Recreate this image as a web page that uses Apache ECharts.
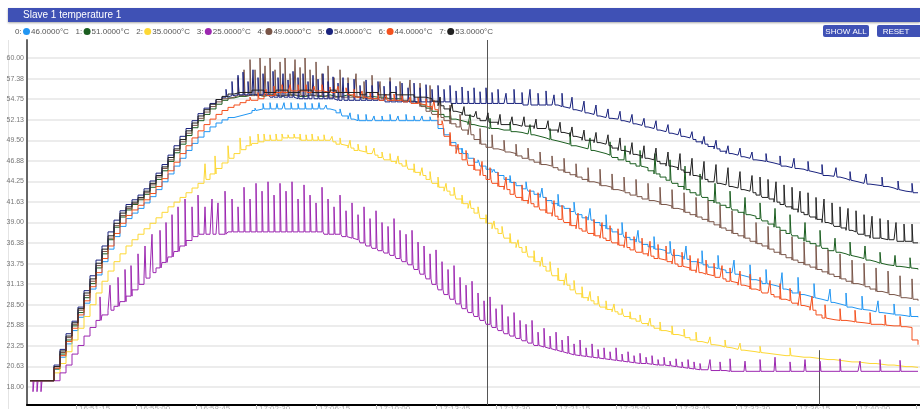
<!DOCTYPE html>
<html><head><meta charset="utf-8">
<script src="https://cdn.jsdelivr.net/npm/echarts@6/dist/echarts.min.js"></script>
<style>html,body{margin:0;padding:0;background:#fff;}#c{width:920px;height:409px;}</style>
</head><body><div id="c"></div>
<script>
// ---------- DATA ----------
const chartTitle = 'Slave 1 temperature 1';
const seriesNames = ['46.0000°C','51.0000°C','35.0000°C','25.0000°C','49.0000°C','54.0000°C','44.0000°C','53.0000°C'];
const sampleStart = 30, sampleStep = 6; // sample time axis (x units)
const xTickValues = [76,136,196,256,316,376,436,496,556,616,676,736,796,856,916];
const xTickLabels = ['16:51:15','16:55:00','16:58:45','17:02:30','17:06:15','17:10:00','17:13:45','17:17:30','17:21:15','17:25:00','17:28:45','17:32:30','17:36:15','17:40:00','17:43:45'];
const yTickValues = [18.00,20.625,23.25,25.875,28.50,31.125,33.75,36.375,39.00,41.625,44.25,46.875,49.50,52.125,54.75,57.375,60.00];
const markerTimes = [487];
const markerSegment = [819, 22.7];

const base0 = [
18.8,18.8,18.8,18.8,20.3,21.8,23.5,25.2,26.9,28.7,
30.5,32.3,34.0,35.6,37.2,38.5,39.5,40.2,40.8,41.5,
42.3,43.2,44.2,45.2,46.2,47.2,48.2,49.1,49.9,50.6,
51.2,51.7,52.1,52.4,52.6,52.8,53.0,53.3,53.5,53.5,
53.5,53.5,53.5,53.5,53.5,53.5,53.5,53.5,53.5,53.5,
53.3,53.0,52.6,52.2,52.0,52.0,52.0,52.0,52.0,52.0,
52.0,52.0,52.0,52.0,52.0,52.0,52.0,52.0,51.0,50.2,
49.2,48.4,47.8,47.2,46.7,46.2,45.8,45.4,45.0,44.5,
44.1,43.7,43.3,43.0,42.6,42.2,41.8,41.4,41.1,40.8,
40.4,40.0,39.6,39.3,39.0,38.6,38.2,37.8,37.5,37.1,
36.8,36.5,36.2,35.9,35.6,35.4,35.1,34.8,34.6,34.3,
34.0,33.8,33.6,33.3,33.1,32.9,32.6,32.4,32.2,32.0,
31.7,31.5,31.2,31.0,30.8,30.5,30.3,30.0,29.8,29.6,
29.4,29.2,29.0,28.8,28.6,28.4,28.2,28.0,27.9,27.8,
27.6,27.5,27.4,27.3,27.2,27.1,27.0,27.0,26.9];
const base1 = [
18.8,18.8,18.8,18.8,20.3,22.2,24.0,25.8,27.5,29.4,
31.2,33.2,35.0,36.8,38.4,39.7,40.6,41.3,41.9,42.6,
43.5,44.5,45.6,46.8,47.9,49.0,50.1,51.1,52.0,52.8,
53.5,54.1,54.6,54.9,55.1,55.1,55.3,55.3,55.1,55.3,
55.3,55.1,55.3,55.3,55.1,55.1,55.3,55.1,55.1,55.3,
55.1,55.1,55.3,55.1,55.0,55.0,55.1,55.0,55.0,54.8,
54.8,54.8,54.5,54.5,54.3,54.0,53.6,53.2,52.8,52.5,
52.2,52.0,51.8,51.5,51.3,51.2,51.0,51.0,50.8,50.8,
50.6,50.5,50.3,50.2,50.0,49.8,49.6,49.4,49.2,49.0,
48.8,48.6,48.4,48.2,48.0,47.8,47.6,47.3,47.0,46.8,
46.5,46.2,46.0,45.6,45.2,44.8,44.4,44.0,43.6,43.2,
42.8,42.5,42.2,41.8,41.5,41.2,40.9,40.6,40.3,40.0,
39.8,39.5,39.2,38.8,38.4,38.0,37.6,37.3,37.0,36.6,
36.3,36.0,35.7,35.4,35.2,35.0,34.8,34.6,34.4,34.2,
34.0,33.8,33.6,33.5,33.4,33.3,33.2,33.1,33.0];
const base2 = [
18.8,18.8,18.8,18.8,19.8,21.0,22.5,24.0,25.5,27.0,
28.5,30.0,31.5,32.8,34.0,35.0,36.0,36.8,37.5,38.2,
38.9,39.6,40.3,41.0,41.6,42.2,42.8,43.4,44.0,44.5,
45.2,45.9,46.6,47.2,47.8,48.3,48.8,49.1,49.3,49.5,
49.5,49.5,49.8,49.8,49.8,49.5,49.5,49.5,49.5,49.5,
49.3,49.0,48.8,48.5,48.2,48.0,47.8,47.6,47.3,47.0,
46.8,46.5,46.2,45.8,45.4,45.0,44.5,44.0,43.5,43.0,
42.5,42.0,41.4,40.8,40.2,39.5,38.9,38.2,37.6,37.0,
36.4,35.8,35.2,34.6,34.0,33.4,32.8,32.2,31.6,31.0,
30.4,29.9,29.4,29.0,28.6,28.2,27.9,27.6,27.3,27.0,
26.7,26.4,26.1,25.8,25.5,25.2,25.0,24.7,24.5,24.3,
24.0,23.8,23.6,23.4,23.3,23.1,23.0,22.8,22.7,22.6,
22.5,22.4,22.3,22.2,22.1,22.0,22.0,21.9,21.8,21.8,
21.7,21.6,21.5,21.5,21.4,21.3,21.2,21.2,21.1,21.0,
21.0,20.9,20.8,20.8,20.7,20.6,20.6,20.5,20.5];
const base3 = [
18.8,18.8,18.8,18.8,18.8,19.8,20.8,22.2,23.3,24.5,
25.6,26.5,27.2,27.8,28.3,28.9,29.6,30.4,31.1,31.9,
32.6,33.2,33.9,34.6,35.3,36.0,36.7,37.2,37.5,37.5,
37.5,37.5,37.5,37.8,37.8,37.8,37.8,37.8,37.8,37.8,
37.8,37.8,37.8,37.8,37.8,37.8,37.8,37.8,37.8,37.5,
37.5,37.5,37.2,37.0,36.8,36.4,36.0,35.7,35.4,35.1,
34.8,34.4,34.0,33.6,33.0,32.4,31.8,31.1,30.4,29.8,
29.2,28.6,28.0,27.5,27.0,26.5,26.0,25.6,25.2,24.8,
24.5,24.2,23.9,23.6,23.3,23.1,22.9,22.7,22.5,22.3,
22.1,22.0,21.9,21.8,21.7,21.6,21.5,21.4,21.3,21.2,
21.1,21.0,21.0,20.9,20.8,20.8,20.7,20.6,20.5,20.4,
20.3,20.2,20.2,20.1,20.1,20.1,20.0,20.0,20.0,20.0,
20.0,20.0,20.0,20.0,20.0,20.0,20.0,20.0,20.0,20.0,
20.0,20.0,20.0,20.0,20.0,20.0,20.0,20.0,20.0,20.0,
20.0,20.0,20.0,20.0,20.0,20.0,20.0,20.0,20.0];
const base4 = [
18.8,18.8,18.8,18.8,20.6,22.4,24.3,26.0,27.8,29.7,
31.5,33.5,35.3,37.0,38.6,39.9,40.8,41.4,42.0,42.8,
43.8,44.8,45.9,47.0,48.2,49.3,50.4,51.4,52.3,53.1,
53.8,54.4,54.8,55.0,55.2,55.2,55.2,55.2,55.2,55.2,
55.2,55.2,55.2,55.2,55.2,55.2,55.2,55.2,55.2,55.0,
55.0,55.0,55.0,55.0,55.0,54.8,54.8,54.8,54.8,54.8,
54.6,54.6,54.6,54.4,54.2,53.8,53.2,52.8,52.4,52.0,
51.6,51.2,50.8,50.2,49.6,49.0,48.6,48.4,48.2,48.0,
47.8,47.5,47.2,47.0,46.7,46.4,46.2,46.0,45.7,45.4,
45.1,44.8,44.5,44.2,44.0,43.7,43.5,43.2,43.0,42.8,
42.5,42.3,42.0,41.8,41.6,41.3,41.1,40.8,40.6,40.3,
40.0,39.7,39.4,39.1,38.7,38.3,38.0,37.6,37.3,37.0,
36.6,36.3,36.0,35.6,35.2,34.9,34.5,34.2,33.9,33.6,
33.3,33.0,32.7,32.4,32.1,31.8,31.5,31.2,31.0,30.8,
30.5,30.2,30.0,29.8,29.6,29.4,29.3,29.2,29.0];
const base5 = [
18.8,18.8,18.8,18.8,20.8,22.8,24.8,26.4,28.2,30.3,
32.2,34.2,36.0,37.8,39.3,40.5,41.3,41.9,42.5,43.3,
44.3,45.3,46.4,47.6,48.8,50.0,51.0,52.0,52.9,53.6,
54.2,54.7,55.0,55.2,55.3,55.3,55.3,55.3,55.3,55.3,
55.0,55.0,55.0,55.0,54.8,54.8,54.8,54.8,54.8,54.8,
54.8,54.6,54.6,54.6,54.6,54.6,54.6,54.6,54.6,54.4,
54.4,54.4,54.4,54.4,54.4,54.4,54.4,54.4,54.4,54.4,
54.2,54.2,54.2,54.2,54.2,54.2,54.2,54.2,54.2,54.2,
54.2,54.2,54.0,54.0,54.0,54.0,54.0,54.0,53.8,53.6,
53.4,53.2,53.0,52.8,52.6,52.4,52.3,52.2,52.0,51.8,
51.6,51.4,51.2,51.0,50.8,50.6,50.4,50.2,50.0,49.8,
49.6,49.3,49.0,48.7,48.4,48.1,47.8,47.6,47.4,47.2,
47.0,46.9,46.8,46.6,46.4,46.2,46.0,45.9,45.8,45.6,
45.4,45.2,45.0,44.9,44.8,44.6,44.4,44.2,44.0,43.9,
43.8,43.7,43.6,43.4,43.2,43.0,42.9,42.8,42.8];
const base6 = [
18.8,18.8,18.8,18.8,20.4,22.0,23.8,25.5,27.2,29.0,
30.8,32.6,34.4,36.0,37.6,38.9,39.9,40.6,41.2,41.9,
42.7,43.6,44.6,45.6,46.7,47.8,48.8,49.8,50.7,51.5,
52.2,52.8,53.3,53.7,54.0,54.3,54.6,54.6,54.8,55.2,
55.2,55.6,55.6,55.8,55.8,55.8,55.6,55.8,55.8,55.6,
55.6,55.6,55.6,55.3,55.0,55.0,54.8,54.8,54.6,54.6,
54.6,54.6,54.4,54.2,54.2,54.0,53.8,53.4,51.5,50.0,
48.8,47.8,47.0,46.3,45.7,45.0,44.5,44.0,43.6,43.2,
42.6,42.2,41.8,41.4,41.0,40.6,40.2,39.8,39.4,39.0,
38.6,38.2,37.9,37.6,37.3,37.0,36.7,36.4,36.1,35.8,
35.5,35.2,35.0,34.7,34.4,34.2,34.0,33.7,33.4,33.2,
32.9,32.6,32.4,32.2,32.0,31.8,31.5,31.3,31.0,30.8,
30.5,30.3,30.0,29.8,29.5,29.2,29.0,28.7,28.4,28.2,
27.8,27.2,26.8,26.6,26.5,26.5,26.4,26.3,26.2,26.1,
26.0,26.0,25.9,25.8,25.8,25.7,25.6,24.0,23.4];
const base7 = [
18.8,18.8,18.8,18.8,20.6,22.6,24.5,26.2,28.0,30.0,
31.8,33.8,35.6,37.3,38.9,40.2,41.0,41.6,42.2,43.0,
44.0,45.0,46.1,47.3,48.4,49.6,50.7,51.7,52.6,53.4,
54.1,54.7,55.1,55.4,55.6,55.6,55.6,55.9,55.9,55.6,
55.6,55.9,55.9,55.6,55.6,55.9,55.9,55.6,55.6,55.6,
55.9,55.6,55.6,55.6,55.6,55.3,55.6,55.6,55.3,55.3,
55.6,55.3,55.3,55.3,55.0,55.0,54.8,54.5,53.9,53.5,
53.2,53.0,52.7,52.5,52.3,52.0,51.8,51.8,51.5,51.5,
51.5,51.3,51.3,51.3,51.0,51.0,50.8,50.8,50.5,50.3,
50.0,49.8,49.5,49.5,49.2,49.0,48.8,48.5,48.2,48.0,
47.7,47.5,47.2,47.0,46.8,46.5,46.2,46.0,45.7,45.4,
45.0,44.8,44.5,44.2,44.0,43.8,43.6,43.4,43.2,43.0,
42.8,42.5,42.2,42.0,41.6,41.3,41.0,40.7,40.3,40.0,
39.7,39.4,39.0,38.8,38.5,38.3,38.0,37.8,37.5,37.3,
37.0,37.0,36.8,36.8,36.6,36.6,36.6,36.4,36.4];

// short excursions [time, peak value]
const spikes0 = [[255,53.6],[263,54.2],[270,54.3],[277,54.2],[284,54.3],[291,54.3],[298,54.2],[305,54.3],[312,54.2],[319,54.3],[326,54.0],[340,53.5],[350,53.0],[358,52.8],[366,52.8],[374,52.6],[382,52.6],[390,52.8],[398,52.6],[406,52.8],[414,52.6],[422,52.6],[430,52.5],[446,50.2],[462,48.5],[478,47.0],[494,45.8],[510,45.0],[526,44.2],[542,43.4],[558,42.6],[574,41.6],[590,40.8],[606,40.0],[622,39.0],[638,38.0],[654,37.2],[670,36.6],[686,36.0],[702,35.4],[718,34.8],[734,34.2],[750,33.6],[766,33.0],[782,32.6],[798,32.0],[814,31.2],[830,30.5],[846,30.0],[862,29.6],[878,29.0],[894,28.6],[910,28.2]];
const spikes1 = [[450,53.5],[470,52.8],[490,52.3],[510,51.8],[530,51.5],[550,51.0],[570,50.5],[590,49.8],[610,49.3],[625,48.8],[640,48.2],[655,47.8],[670,47.0],[685,46.2],[700,45.2],[715,44.0],[730,43.0],[745,42.2],[760,41.5],[775,40.8],[790,40.0],[805,39.0],[820,38.0],[835,37.0],[850,36.5],[865,36.0],[880,35.2],[895,34.8],[910,34.5]];
const spikes2 = [[205,46.5],[215,47.5],[228,48.8],[240,49.8],[250,50.0],[258,50.3],[264,50.3],[270,50.2],[276,50.3],[282,50.3],[288,50.2],[294,50.3],[300,50.3],[306,50.2],[312,50.3],[318,50.0],[324,50.2],[332,50.0],[340,49.8],[350,49.5],[358,49.0],[366,48.8],[374,48.5],[382,48.0],[390,47.8],[398,47.5],[406,47.0],[414,46.5],[422,46.0],[430,45.5],[438,44.8],[446,44.0],[454,43.5],[462,42.5],[470,41.8],[478,41.0],[486,40.0],[494,39.2],[502,38.5],[510,37.6],[518,36.8],[526,36.0],[534,35.4],[542,34.6],[550,34.0],[558,33.2],[566,32.5],[574,31.6],[582,30.8],[590,30.2],[598,29.6],[606,29.0],[614,28.6],[622,28.0],[630,27.6],[640,27.2],[650,26.8],[660,26.3],[672,25.8],[684,25.4],[696,25.0],[710,24.4],[725,24.0],[740,23.6],[760,23.2],[790,23.0]];
const spikes3 = [[33,17.4],[37,17.4],[41,17.4],[100,29.5],[110,31.0],[118,32.0],[125,33.0],[131,33.5],[138,35.0],[145,36.0],[152,37.5],[160,38.0],[166,39.0],[172,40.0],[178,41.0],[185,42.0],[192,41.0],[198,42.5],[205,41.0],[212,42.0],[218,41.5],[225,43.0],[232,42.0],[238,41.0],[244,43.5],[250,42.0],[256,44.0],[262,43.0],[268,44.2],[274,42.5],[280,44.0],[286,43.0],[292,44.2],[298,42.0],[304,43.8],[310,42.5],[316,41.5],[322,43.5],[328,42.0],[334,41.0],[340,42.5],[346,40.5],[352,41.5],[358,40.0],[364,41.0],[370,39.5],[376,40.5],[382,39.0],[388,38.5],[394,39.5],[400,38.0],[406,37.5],[412,38.0],[418,36.5],[424,36.0],[430,35.0],[436,35.5],[442,34.0],[448,33.0],[454,33.5],[460,32.0],[466,31.0],[472,31.5],[478,30.0],[484,29.0],[490,29.5],[496,28.0],[502,28.5],[508,27.0],[514,27.5],[520,26.5],[526,26.0],[532,26.5],[538,25.0],[544,25.5],[550,24.5],[556,25.0],[562,24.0],[568,24.5],[574,23.5],[580,24.0],[586,23.0],[592,23.5],[598,22.8],[604,23.0],[610,22.5],[616,23.0],[622,22.2],[628,22.5],[634,22.0],[640,22.3],[646,21.8],[652,22.0],[658,21.5],[664,21.8],[670,21.3],[676,21.6],[682,21.2],[688,21.5],[694,21.2],[700,21.0],[710,21.5],[720,21.2],[730,21.6],[745,21.3],[760,21.5],[775,21.8],[790,21.2],[805,21.5],[820,21.3],[840,21.6],[860,21.3],[880,21.5],[900,21.4]];
const spikes4 = [[238,57.5],[244,58.5],[250,59.8],[255,58.5],[260,60.0],[265,59.0],[270,60.0],[275,58.5],[280,59.5],[285,60.0],[290,58.0],[295,59.8],[300,58.8],[305,60.0],[310,58.5],[316,59.5],[322,58.0],[328,59.0],[334,57.5],[340,58.5],[348,57.5],[356,58.0],[364,57.0],[372,57.8],[380,57.0],[390,57.5],[400,57.0],[410,57.2],[420,56.8],[430,56.5],[440,55.0],[450,54.0],[460,52.8],[470,52.0],[480,51.0],[492,50.2],[504,49.5],[516,49.0],[528,48.5],[540,48.0],[552,47.5],[564,47.2],[576,46.5],[588,46.0],[600,45.8],[612,45.2],[624,44.8],[636,44.5],[648,44.0],[660,43.5],[672,43.2],[684,42.8],[696,42.2],[708,41.8],[720,41.2],[732,40.5],[744,40.0],[756,39.0],[768,38.5],[780,38.0],[792,37.2],[804,36.5],[816,36.0],[828,35.5],[840,35.0],[852,34.2],[864,33.8],[876,33.2],[888,32.8],[900,32.2],[912,31.8]];
const spikes5 = [[226,56.0],[232,57.0],[238,57.8],[243,58.2],[248,57.0],[253,58.5],[258,57.5],[263,58.0],[268,57.0],[273,58.3],[278,57.5],[283,58.0],[288,57.2],[293,58.3],[298,57.5],[303,58.0],[308,57.0],[313,57.8],[318,57.3],[323,58.0],[328,57.0],[333,57.6],[338,56.8],[343,57.5],[348,56.8],[354,57.3],[360,56.5],[366,57.2],[372,56.5],[378,57.0],[384,56.4],[390,57.0],[396,56.4],[402,56.8],[408,56.2],[414,56.8],[420,56.2],[426,56.6],[432,56.0],[438,56.5],[444,56.0],[450,56.5],[456,55.8],[462,56.3],[468,55.8],[474,56.2],[480,55.7],[486,56.2],[492,55.6],[498,56.0],[506,55.5],[514,56.0],[522,55.6],[530,56.0],[538,55.5],[546,55.8],[554,55.3],[562,55.5],[572,55.0],[584,54.5],[596,54.0],[608,53.5],[620,53.2],[632,52.8],[644,52.3],[656,52.0],[668,51.5],[680,51.0],[692,50.6],[704,50.0],[716,49.5],[728,48.8],[740,48.5],[752,48.0],[766,47.8],[780,47.5],[794,47.2],[808,46.8],[822,46.4],[836,46.0],[850,45.5],[866,45.2],[882,44.8],[898,44.3],[912,44.0]];
const spikes6 = [[250,55.0],[258,55.6],[266,56.0],[274,56.4],[282,56.6],[290,56.6],[298,56.6],[306,56.6],[314,56.4],[322,56.6],[330,56.3],[338,56.4],[346,56.2],[354,56.0],[362,55.8],[370,55.6],[378,55.6],[386,55.4],[394,55.4],[402,55.2],[410,55.0],[418,55.0],[426,54.8],[434,54.6],[442,52.0],[450,50.5],[458,49.0],[466,48.2],[474,47.2],[482,46.8],[490,46.0],[498,45.4],[506,44.8],[514,44.2],[522,43.8],[530,43.2],[538,42.8],[546,42.2],[554,41.8],[562,41.2],[570,40.8],[578,40.2],[586,39.8],[594,39.4],[602,39.0],[610,38.6],[618,38.2],[626,37.8],[634,37.2],[642,37.0],[650,36.6],[658,36.2],[666,36.0],[674,35.6],[682,35.2],[690,34.8],[698,34.4],[706,34.2],[714,33.8],[722,33.5],[730,33.2],[740,32.8],[750,32.4],[760,32.0],[770,31.6],[780,31.2],[790,30.6],[800,30.2],[812,29.6],[825,28.5],[840,28.0],[855,27.8],[870,27.5],[885,27.2],[900,27.0]];
const spikes7 = [[440,55.0],[452,54.2],[464,53.8],[476,53.2],[488,53.0],[500,52.8],[512,52.5],[524,52.5],[536,52.2],[548,52.0],[560,51.8],[572,51.2],[584,50.8],[596,50.5],[608,50.2],[620,49.8],[632,49.2],[644,48.8],[656,48.5],[668,48.0],[680,47.8],[692,47.2],[704,46.8],[716,46.4],[728,46.0],[740,45.5],[752,45.0],[760,44.8],[768,44.5],[776,44.2],[784,43.8],[792,43.5],[800,43.0],[808,42.8],[816,42.2],[824,42.0],[832,41.5],[840,41.0],[848,40.8],[856,40.5],[864,40.0],[872,39.8],[880,39.5],[888,39.3],[896,39.0],[904,38.8],[912,38.8]];

// ---------- STYLE ----------
const colors = ['#2196f3','#1b5e20','#fdd835','#9c27b0','#795548','#1a237e','#f4511e','#212121'];
const bases = [base0,base1,base2,base3,base4,base5,base6,base7];
const spikes = [spikes0,spikes1,spikes2,spikes3,spikes4,spikes5,spikes6,spikes7];

function build(base, sp) {
  const s = sp.slice().sort((a,b)=>a[0]-b[0]);
  const pts = []; let k = 0;
  for (let i = 0; i < base.length; i++) {
    const x0 = sampleStart + i*sampleStep, x1 = x0 + sampleStep;
    pts.push([x0, base[i]]);
    while (k < s.length && s[k][0] < x1) {
      if (s[k][0] >= x0) { pts.push([s[k][0], s[k][1]]); pts.push([s[k][0] + 1, base[i]]); }
      k++;
    }
  }
  return pts;
}

const chart = echarts.init(document.getElementById('c'), null, {renderer:'canvas'});
const series = bases.map((b,i)=>({
  name: seriesNames[i], type:'line', step:'end', showSymbol:false, symbol:'none',
  sampling: null, animation:false, silent:true,
  lineStyle:{color:colors[i], width:1}, itemStyle:{color:colors[i]},
  data: build(b, spikes[i]), z: 2+i
}));
series[7].markLine = {
  silent:true, symbol:'none', animation:false, label:{show:false},
  lineStyle:{color:'#555', width:1, type:'solid'},
  data: markerTimes.map(t=>({xAxis:t})).concat([[{coord:[markerSegment[0], markerSegment[1]]},{coord:[markerSegment[0], 15.7]}]])
};

const graphics = [
  {type:'rect', shape:{x:8,y:8,width:912,height:14}, style:{fill:'#3f51b5', shadowBlur:2, shadowColor:'rgba(0,0,0,0.35)', shadowOffsetY:1}},
  {type:'text', x:23, y:15, style:{text:chartTitle, fill:'#fff', font:'10px "Liberation Sans", Arial, sans-serif', verticalAlign:'middle'}},
  {type:'line', shape:{x1:8.5,y1:40,x2:8.5,y2:409}, style:{stroke:'#e4e4e4', lineWidth:1}},
  {type:'rect', shape:{x:823,y:25,width:46,height:12,r:2}, style:{fill:'#3f51b5'}},
  {type:'text', x:846, y:31.5, style:{text:'SHOW ALL', fill:'#fff', font:'8px "Liberation Sans", Arial, sans-serif', align:'center', verticalAlign:'middle'}},
  {type:'rect', shape:{x:877,y:25,width:46,height:12,r:2}, style:{fill:'#3f51b5'}},
  {type:'text', x:896, y:31.5, style:{text:'RESET', fill:'#fff', font:'8px "Liberation Sans", Arial, sans-serif', align:'center', verticalAlign:'middle'}}
];
seriesNames.forEach((n,i)=>{
  const x0 = 15 + 60.6*i;
  graphics.push({type:'text', x:x0, y:31.5, style:{text:i+':', fill:'#555', font:'8px "Liberation Sans", Arial, sans-serif', verticalAlign:'middle'}});
  graphics.push({type:'circle', shape:{cx:x0+11.5, cy:31.5, r:3.5}, style:{fill:colors[i]}});
  graphics.push({type:'text', x:x0+16, y:31.5, style:{text:n, fill:'#555', font:'8px "Liberation Sans", Arial, sans-serif', verticalAlign:'middle'}});
});

chart.setOption({
  animation:false,
  backgroundColor:'#fff',
  grid:{left:27, right:0, top:40, bottom:4, containLabel:false, outerBoundsMode:'none'},
  xAxis:{type:'value', min:27, max:920,
    axisLine:{show:true, lineStyle:{color:'#000', width:2}},
    axisTick:{show:true, customValues:xTickValues, length:4, lineStyle:{color:'#bbb'}},
    axisLabel:{show:true, customValues:xTickValues, formatter:v=>xTickLabels[xTickValues.indexOf(v)], align:'left', margin:0, fontSize:8, color:'#aaa', padding:[0,0,0,3], hideOverlap:false},
    splitLine:{show:false}},
  yAxis:{type:'value', min:15.7, max:62.3,
    axisLine:{show:true, lineStyle:{color:'#666', width:2}},
    axisTick:{show:false, customValues:yTickValues},
    axisLabel:{show:true, customValues:yTickValues, formatter:v=>v.toFixed(2), fontSize:7, color:'#777', margin:3, fontFamily:'"Liberation Sans", Arial, sans-serif'},
    splitLine:{show:true, lineStyle:{color:'#e6e6e6', width:1.5}}},
  series: series,
  graphic: graphics
});
</script></body></html>
